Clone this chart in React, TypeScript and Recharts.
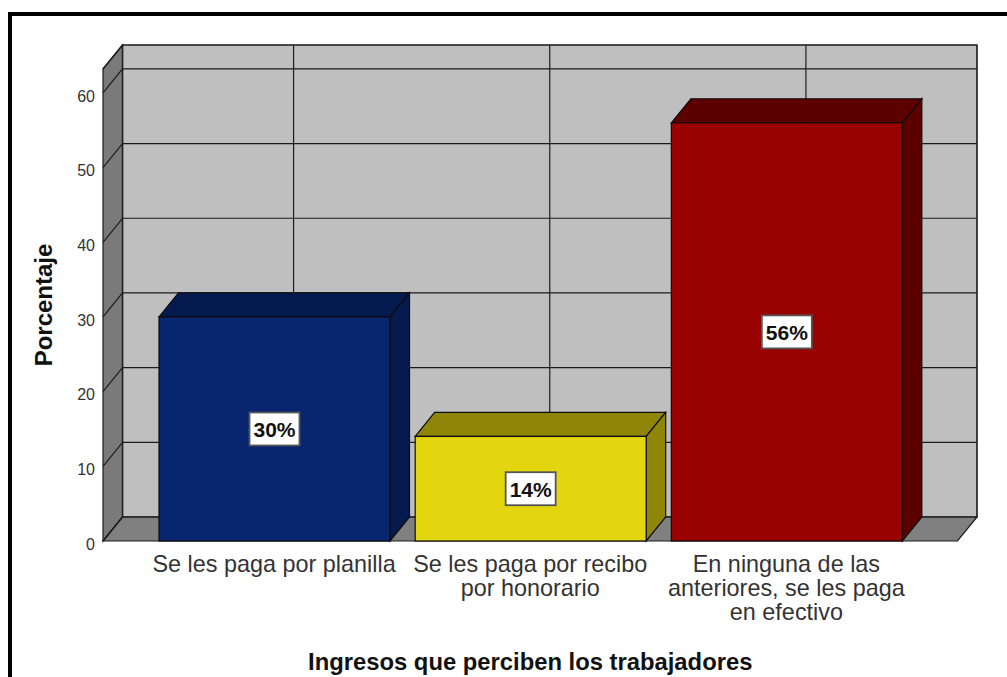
import { BarChart, Bar, XAxis, YAxis, CartesianGrid, ReferenceArea, LabelList } from "recharts";

const categories = [
  "Se les paga por planilla",
  "Se les paga por recibo por honorario",
  "En ninguna de las anteriores, se les paga en efectivo",
];
const categoryLines = [
  ["Se les paga por planilla"],
  ["Se les paga por recibo", "por honorario"],
  ["En ninguna de las", "anteriores, se les paga", "en efectivo"],
];
const percentages = [30, 14, 56];
const yTicks = [0, 10, 20, 30, 40, 50, 60];
const frontColors = ["#082570", "#e3d60f", "#990000"];
const darkColors = ["#051a4e", "#8f8508", "#5c0000"];

const rows = categories.map((name, i) => ({ name, value: percentages[i] }));

const FONT = '"Liberation Sans", Arial, sans-serif';
const DX = 19.5;
const DY = 24;
const PAD = 43;
const LINE = "#1c1c1c";

function Room({ x: bandX, y, width: bandW, height }: any) {
  // the reference area stops at the axis padding, the room runs past it
  const x = bandX - PAD;
  const r = bandX + bandW + PAD;
  const b = y + height;
  return (
    <g>
      <rect x={x + DX} y={y - DY} width={r - x} height={height} fill="#bfbfbf" stroke="#555" strokeWidth={1.5} />
      <polygon
        points={`${x},${y} ${x + DX},${y - DY} ${x + DX},${b - DY} ${x},${b}`}
        fill="#7a7a7a"
        stroke={LINE}
        strokeWidth={1.2}
      />
      <polygon
        points={`${x},${b} ${x + DX},${b - DY} ${r + DX},${b - DY} ${r},${b}`}
        fill="#808080"
        stroke={LINE}
        strokeWidth={1.2}
      />
    </g>
  );
}

function GridH({ x1, x2, y1, key }: any) {
  return (
    <g key={key}>
      <line x1={x1 + DX} x2={x2 + DX} y1={y1 - DY} y2={y1 - DY} stroke={LINE} strokeWidth={1.2} />
      <line x1={x1} x2={x1 + DX} y1={y1} y2={y1 - DY} stroke={LINE} strokeWidth={1.2} />
    </g>
  );
}

function GridV({ x1, y1, y2, key }: any) {
  return <line key={key} x1={x1 + DX} x2={x1 + DX} y1={y1 - DY} y2={y2 - DY} stroke={LINE} strokeWidth={1.2} />;
}

function Box3D({ x, y, width, height, index }: any) {
  const r = x + width;
  const b = y + height;
  return (
    <g stroke="#0d0d0d" strokeWidth={1.2}>
      <polygon
        points={`${x},${y} ${x + DX},${y - DY} ${r + DX},${y - DY} ${r},${y}`}
        fill={darkColors[index]}
      />
      <polygon
        points={`${r},${y} ${r + DX},${y - DY} ${r + DX},${b - DY} ${r},${b}`}
        fill={darkColors[index]}
      />
      <rect x={x} y={y} width={width} height={height} fill={frontColors[index]} />
    </g>
  );
}

function PctLabel({ x, y, width, height, value }: any) {
  const cx = x + width / 2;
  const cy = y + height / 2;
  return (
    <g>
      <rect x={cx - 25} y={cy - 16.5} width={50} height={33} fill="#fff" stroke="#555" strokeWidth={1.8} />
      <text
        x={cx}
        y={cy + 8}
        textAnchor="middle"
        fontFamily={FONT}
        fontWeight="bold"
        fontSize={21}
        fill="#111"
      >
        {value}%
      </text>
    </g>
  );
}

function CategoryTick({ x, y, index }: any) {
  return (
    <text x={x} y={y + 17} textAnchor="middle" fontFamily={FONT} fontSize={23.4} fill="#333">
      {categoryLines[index].map((line, i) => (
        <tspan key={line} x={x} dy={i === 0 ? 0 : 24}>
          {line}
        </tspan>
      ))}
    </text>
  );
}

export default function App() {
  return (
    <div style={{ position: "absolute", left: 0, top: 0, width: 1007, height: 677, overflow: "hidden", background: "#fff" }}>
      <div
        style={{
          position: "absolute",
          left: 8,
          top: 12,
          width: 1100,
          height: 800,
          borderLeft: "4px solid #000",
          borderTop: "4px solid #000",
        }}
      />
      <div style={{ position: "absolute", left: 0, top: 0 }}>
        <BarChart
          width={1007}
          height={677}
          data={rows}
          barSize={231}
          margin={{ top: 69, right: 49.5, left: 20, bottom: 0 }}
        >
          <ReferenceArea y1={0} y2={63.2} shape={Room} zIndex={-200} ifOverflow="visible" />
          <CartesianGrid horizontal={GridH} vertical={GridV} />
          <XAxis
            dataKey="name"
            interval={0}
            height={136}
            padding={{ left: 43, right: 43 }}
            axisLine={false}
            tickLine={false}
            tickMargin={8}
            tick={CategoryTick}
            label={{
              value: "Ingresos que perciben los trabajadores",
              position: "insideBottom",
              offset: 7,
              style: { fontFamily: FONT, fontWeight: "bold", fontSize: 23.8, fill: "#111" },
            }}
          />
          <YAxis
            type="number"
            domain={[0, 63.2]}
            ticks={yTicks}
            width={83}
            axisLine={false}
            tickLine={false}
            tickMargin={2}
            tick={{ fontFamily: FONT, fontSize: 16, fill: "#333", dy: 3 }}
            label={{
              value: "Porcentaje",
              angle: -90,
              position: "insideLeft",
              offset: 23,
              style: { fontFamily: FONT, fontWeight: "bold", fontSize: 24, fill: "#111", textAnchor: "middle" },
            }}
          />
          <Bar dataKey="value" shape={Box3D} isAnimationActive={false}>
            <LabelList dataKey="value" content={PctLabel} />
          </Bar>
        </BarChart>
      </div>
    </div>
  );
}
